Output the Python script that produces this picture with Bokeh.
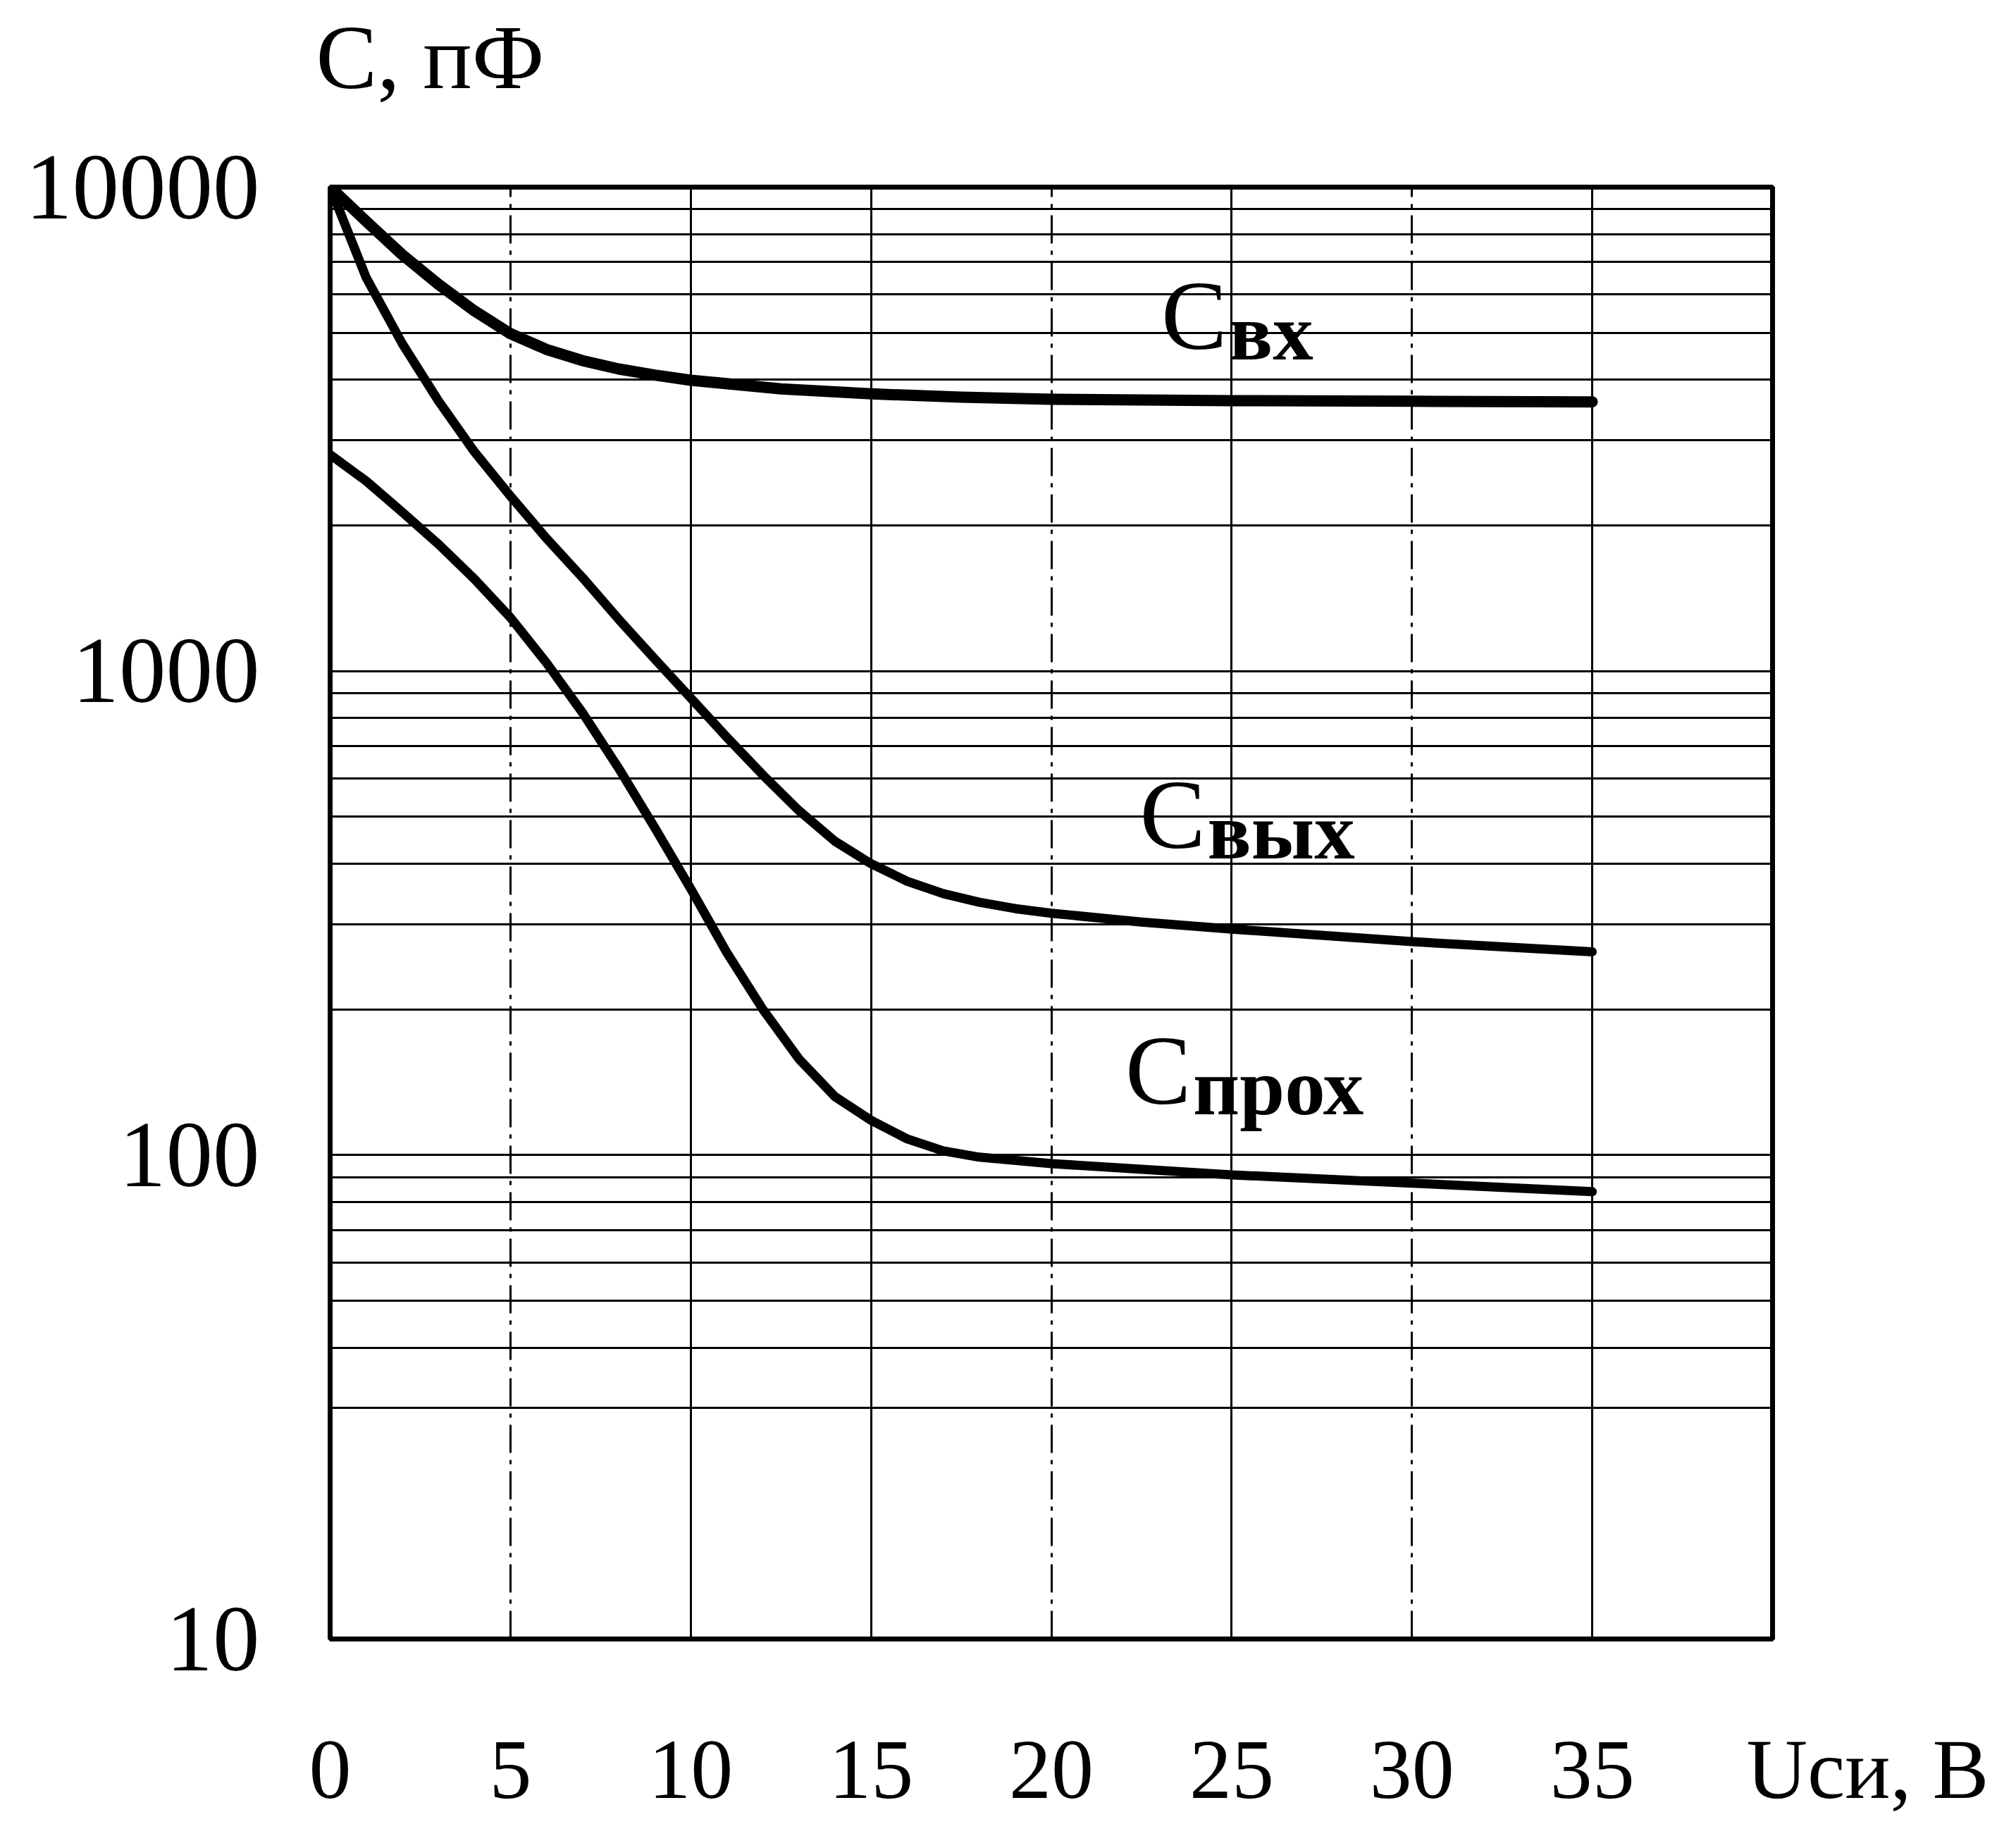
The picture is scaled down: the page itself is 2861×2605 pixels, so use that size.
from bokeh.plotting import figure
from bokeh.models import FixedTicker, Label, Grid, PrintfTickFormatter
from bokeh.embed import file_html
from bokeh.resources import INLINE

# ---- data ----
x_ticks = [0, 5, 10, 15, 20, 25, 30, 35, 40]
x_tick_labels = ["0", "5", "10", "15", "20", "25", "30", "35", "Uси, В"]
x_grid_solid = [10, 15, 25, 35]
x_grid_dashdot = [5, 20, 30]
y_ticks = [10, 100, 1000, 10000]
y_minor = [30, 40, 50, 60, 70, 80, 90,
           200, 300, 400, 500, 600, 700, 800, 900,
           2000, 3000, 4000, 5000, 6000, 7000, 8000, 9000]

u_in = [0, 1, 2, 3, 4, 5, 6, 7, 8, 9, 10, 12.5, 15, 17.5, 20, 25, 30, 35]
c_in = [10000, 8500, 7250, 6300, 5550, 4980, 4620, 4380, 4210, 4090, 3990,
        3830, 3740, 3680, 3645, 3620, 3610, 3600]

u_out = [0, 1, 2, 3, 4, 5, 6, 7, 8, 9, 10, 11, 12, 13, 14, 15, 16, 17, 18, 19, 20,
         22.5, 25, 30, 35]
c_out = [10000, 6500, 4750, 3620, 2840, 2300, 1880, 1560, 1280, 1060, 880, 730, 610,
         515, 445, 400, 368, 347, 333, 323, 316, 303, 293, 276, 263]

u_tr = [0, 1, 2, 3, 4, 5, 6, 7, 8, 9, 10, 11, 12, 13, 14, 15, 16, 17, 18, 20, 25, 30, 35]
c_tr = [2800, 2470, 2130, 1830, 1550, 1290, 1040, 820, 630, 475, 355, 262, 200, 158,
        132, 118, 108, 102, 99, 96, 91, 87.5, 84]

y_title = "C, пФ"
curve_names = [("C", "вх"), ("C", "вых"), ("C", "прох")]

FONT = "Liberation Serif"
NBSP = "\u00a0"

p = figure(frame_width=2047, frame_height=2060,
           x_range=(0, 40), y_range=(10, 10000), y_axis_type="log",
           output_backend="svg", toolbar_location=None,
           min_border_left=468, min_border_right=346,
           min_border_top=265, min_border_bottom=270,
           background_fill_color="white", border_fill_color="white")

p.outline_line_color = "black"
p.outline_line_width = 7

# title used as the y-quantity caption (second blank line lifts it upward)
p.title.text = y_title + "\n" + NBSP
p.title.text_font = FONT
p.title.text_font_size = "130px"
p.title.text_font_style = "normal"
p.title.text_color = "black"
p.title.text_line_height = 0.75
p.title.align = "left"
p.title.offset = -20
p.title.standoff = 10

# x axis (last tick carries the quantity caption)
xt = FixedTicker(ticks=x_ticks)
p.xaxis.ticker = xt
overrides = {t: l for t, l in zip(x_ticks, x_tick_labels)}
overrides[x_ticks[-1]] = NBSP * 9 + x_tick_labels[-1]
p.xaxis.major_label_overrides = overrides
p.xaxis.major_label_text_font = FONT
p.xaxis.major_label_text_font_size = "120px"
p.xaxis.major_label_text_color = "black"
p.xaxis.major_label_standoff = 112
p.xaxis.axis_line_color = None
p.xaxis.major_tick_line_color = None
p.xaxis.minor_tick_line_color = None

yt = FixedTicker(ticks=y_ticks, minor_ticks=y_minor)
p.yaxis.ticker = yt
p.yaxis.formatter = PrintfTickFormatter(format="%d")
p.yaxis.major_label_text_font = FONT
p.yaxis.major_label_text_font_size = "133px"
p.yaxis.major_label_text_color = "black"
p.yaxis.major_label_standoff = 94
p.yaxis.axis_line_color = None
p.yaxis.major_tick_line_color = None
p.yaxis.minor_tick_line_color = None

# grids
p.ygrid.ticker = yt
p.ygrid.grid_line_color = "black"
p.ygrid.grid_line_width = 3
p.ygrid.minor_grid_line_color = "black"
p.ygrid.minor_grid_line_width = 3

p.xgrid.ticker = FixedTicker(ticks=x_grid_solid)
p.xgrid.grid_line_color = "black"
p.xgrid.grid_line_width = 3
g2 = Grid(dimension=0, ticker=FixedTicker(ticks=x_grid_dashdot),
          grid_line_color="black", grid_line_width=3, grid_line_dash="40 10 6 10")
p.add_layout(g2)

# curves
p.line(u_in, c_in, line_width=16, line_color="black", line_join="round", line_cap="round")
p.line(u_out, c_out, line_width=13, line_color="black", line_join="round", line_cap="round")
p.line(u_tr, c_tr, line_width=13, line_color="black", line_join="round", line_cap="round")

# curve labels
label_pos = [(23.05, 4625), (22.45, 430), (22.05, 127.6)]
for (main, sub), (lx, ly) in zip(curve_names, label_pos):
    p.add_layout(Label(x=lx, y=ly, y_offset=48, text=main, text_font=FONT,
                       text_font_size="140px", text_color="black",
                       text_baseline="middle", text_align="left"))
    p.add_layout(Label(x=lx, y=ly, x_offset=96, y_offset=24, text=sub, text_font=FONT,
                       text_font_size="115px", text_font_style="bold",
                       text_color="black", text_baseline="middle", text_align="left"))

open("out.html", "w").write(file_html(p, INLINE))
